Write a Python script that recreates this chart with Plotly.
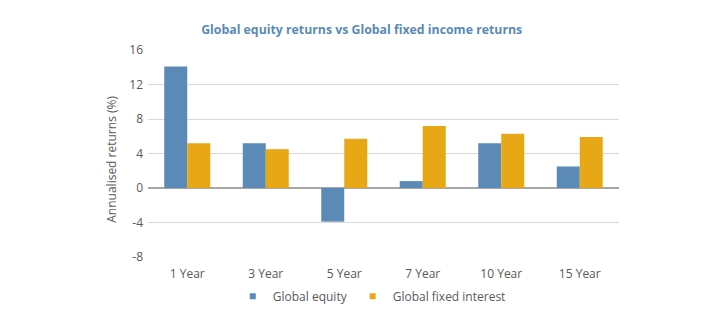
import plotly.graph_objects as go

# Annualised returns by holding period
periods = ["1 Year", "3 Year", "5 Year", "7 Year", "10 Year", "15 Year"]
global_equity = [14.1, 5.2, -3.9, 0.8, 5.2, 2.5]
global_fixed_interest = [5.2, 4.5, 5.7, 7.2, 6.3, 5.9]
y_ticks = [-8, -4, 0, 4, 8, 12, 16]
y_tick_labels = ["-8", "-4", "0", "4", "8", "12", "16"]

BLUE = "#5B8AB6"
GOLD = "#E8A715"
TEXT = "#595959"
FONT = "Open Sans, DejaVu Sans, sans-serif"

fig = go.Figure()

fig.add_trace(go.Bar(x=periods, y=global_equity, name="Global equity",
                     marker=dict(color=BLUE, line=dict(width=0)), showlegend=False))
fig.add_trace(go.Bar(x=periods, y=global_fixed_interest, name="Global fixed interest",
                     marker=dict(color=GOLD, line=dict(width=0)), showlegend=False))

# small square legend keys
for name, color in [("Global equity", BLUE), ("Global fixed interest", GOLD)]:
    fig.add_trace(go.Scatter(x=[None], y=[None], mode="markers", name=name,
                             marker=dict(symbol="square", size=6, color=color)))

fig.update_layout(
    width=728, height=334,
    margin=dict(l=148, r=109, t=50, b=77),
    paper_bgcolor="white", plot_bgcolor="white",
    font=dict(family=FONT, size=12, color=TEXT),
    barmode="group", bargap=0.414, bargroupgap=0,
    title=dict(text="<b>Global equity returns vs Global fixed income returns</b>",
               x=361.7 / 728, xanchor="center", y=1 - 30 / 334, yanchor="middle",
               font=dict(family=FONT, size=12.3, color="#5B8AB6")),
    legend=dict(orientation="h", x=0.18, xanchor="left", y=-0.19, yanchor="middle",
                font=dict(family=FONT, size=12, color=TEXT),
                itemwidth=30, bgcolor="rgba(0,0,0,0)"),
    xaxis=dict(showline=False, showgrid=False, ticks="", ticklabelstandoff=8,
               tickfont=dict(family=FONT, size=12, color=TEXT)),
    yaxis=dict(range=[-8, 16], tickvals=y_ticks, ticktext=y_tick_labels,
               showgrid=True, gridcolor="#D9D9D9",
               gridwidth=1, zeroline=True, zerolinecolor="#A6A6A6", zerolinewidth=1.5,
               showline=False, ticks="", ticklabelstandoff=4,
               tickfont=dict(family=FONT, size=12, color=TEXT)),
    annotations=[dict(text="Annualised returns (%)", textangle=-90,
                      xref="paper", yref="paper", x=-0.0764, y=0.47,
                      xanchor="center", yanchor="middle", showarrow=False,
                      font=dict(family=FONT, size=12, color=TEXT))],
)

fig.write_html("out.html")
